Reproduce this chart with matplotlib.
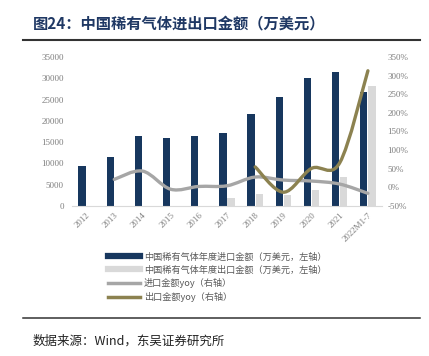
import numpy as np
import matplotlib.pyplot as plt
from matplotlib.path import Path
from matplotlib.patches import PathPatch
from matplotlib.lines import Line2D

plt.rcParams['font.family'] = ['Noto Sans CJK SC', 'DejaVu Sans']

# data
years = ['2012', '2013', '2014', '2015', '2016', '2017', '2018', '2019', '2020', '2021', '2022M1-7']
imports = [9400, 11500, 16500, 16050, 16450, 17200, 21600, 25700, 30150, 31500, 26700]
exports = [0, 0, 0, 0, 0, 1900, 2800, 2500, 3750, 6900, 28250]
import_yoy = [None, 21.5, 43.8, -5, 2.5, 4.3, 27.7, 19.6, 17, 8.9, -16]
export_yoy = [None, None, None, None, None, None, 55, -13, 51, 66, 313]

dark = '#17375e'
light = '#d9d9d9'
grey_line = '#a6a6a6'
olive = '#8c8250'
tick_col = '#7f7f7f'


def smooth_path(xs, ys):
    # excel style smoothed line: cubic bezier through every point
    pts = [(x, y) for x, y in zip(xs, ys) if y is not None]
    verts = [pts[0]]
    codes = [Path.MOVETO]
    n = len(pts)
    for i in range(n - 1):
        p0 = pts[i - 1] if i > 0 else pts[i]
        p1 = pts[i]
        p2 = pts[i + 1]
        p3 = pts[i + 2] if i + 2 < n else p2
        c1 = (p1[0] + (p2[0] - p0[0]) / 6, p1[1] + (p2[1] - p0[1]) / 6)
        c2 = (p2[0] - (p3[0] - p1[0]) / 6, p2[1] - (p3[1] - p1[1]) / 6)
        verts += [c1, c2, p2]
        codes += [Path.CURVE4] * 3
    return Path(verts, codes)


fig = plt.figure(figsize=(4.29, 3.56), dpi=100)
ax = fig.add_axes([72 / 429, 150 / 356, 310 / 429, 149 / 356])

x = np.arange(len(years))
w = 0.26
ax.bar(x - 0.145, imports, width=w, color=dark, zorder=2)
ax.bar(x + 0.145, exports, width=w, color=light, zorder=2)
ax.set_xlim(-0.5, len(years) - 0.5)
ax.set_ylim(0, 35000)
ax.set_yticks(range(0, 35001, 5000))
ax.set_yticklabels([str(v) for v in range(0, 35001, 5000)], family='Liberation Serif',
                   fontsize=6.5, color=tick_col)
ax.set_xticks(x)
ax.set_xticklabels(years, rotation=45, ha='right', rotation_mode='anchor',
                   family='Liberation Serif', fontsize=6.5, color=tick_col)
ax.tick_params(length=0, pad=6)
ax.tick_params(axis='x', pad=4)
for s in ['top', 'left', 'right']:
    ax.spines[s].set_visible(False)
ax.spines['bottom'].set_color('#d9d9d9')

ax2 = ax.twinx()
ax2.set_ylim(-50, 350)
ax2.set_yticks(range(-50, 351, 50))
ax2.set_yticklabels([f'{v}%' for v in range(-50, 351, 50)], family='Liberation Serif',
                    fontsize=6.5, color=tick_col)
ax2.tick_params(length=0, pad=4)
for s in ['top', 'left', 'right', 'bottom']:
    ax2.spines[s].set_visible(False)

ax2.add_patch(PathPatch(smooth_path(x, import_yoy), fill=False, edgecolor=grey_line,
                        lw=2.4, capstyle='round', zorder=3))
ax2.add_patch(PathPatch(smooth_path(x, export_yoy), fill=False, edgecolor=olive,
                        lw=2.4, capstyle='round', zorder=4))

handles = [
    Line2D([], [], color=dark, lw=4.5),
    Line2D([], [], color=light, lw=4.5),
    Line2D([], [], color=grey_line, lw=2.5),
    Line2D([], [], color=olive, lw=2.5),
]
labels = ['中国稀有气体年度进口金额（万美元，左轴）',
          '中国稀有气体年度出口金额（万美元，左轴）',
          '进口金额yoy（右轴）',
          '出口金额yoy（右轴）']
fig.legend(handles, labels, loc='upper left', bbox_to_anchor=(100 / 429, 1 - 244 / 356),
           frameon=False, fontsize=6.6, handlelength=3.5, handletextpad=0.4,
           labelspacing=0.42, labelcolor='#595959')

# title, rules and source
fig.text(33 / 429, 1 - 23 / 356, '图24：中国稀有气体进出口金额（万美元）', fontsize=11,
         fontweight='bold', color='#1f3864', va='center')
fig.add_artist(Line2D([23 / 429, 420 / 429], [1 - 40 / 356, 1 - 40 / 356], color='#333333', lw=1.5))
fig.add_artist(Line2D([23 / 429, 420 / 429], [1 - 318 / 356, 1 - 318 / 356], color='#333333', lw=1.1))
fig.text(33 / 429, 1 - 341 / 356, '数据来源：Wind，东吴证券研究所', fontsize=9,
         color='#222222', va='center')

fig.savefig('out.png', dpi=100)
